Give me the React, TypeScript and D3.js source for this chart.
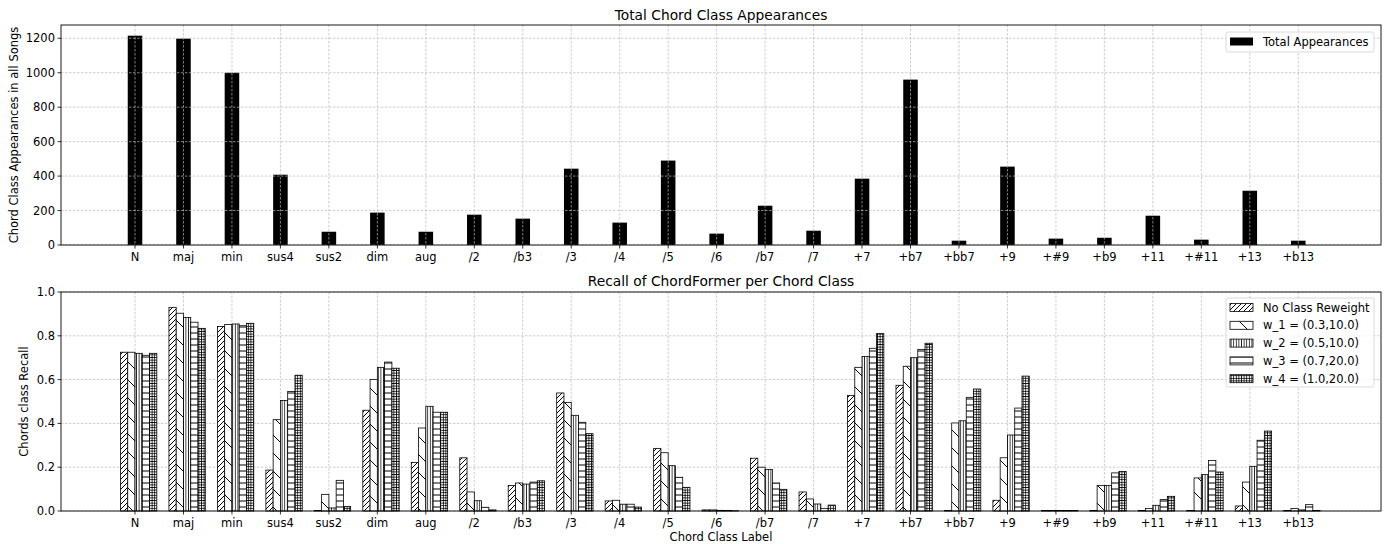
import * as d3 from 'd3'

const labels = ['N', 'maj', 'min', 'sus4', 'sus2', 'dim', 'aug', '/2', '/b3', '/3', '/4', '/5', '/6', '/b7', '/7', '+7', '+b7', '+bb7', '+9', '+#9', '+b9', '+11', '+#11', '+13', '+b13']

const totalAppearances = [1215, 1198, 1000, 408, 77, 188, 77, 176, 153, 443, 130, 490, 66, 228, 83, 385, 960, 25, 455, 37, 42, 170, 31, 315, 25]

const noReweight = [0.725, 0.93, 0.843, 0.187, 0.002, 0.46, 0.222, 0.243, 0.116, 0.539, 0.046, 0.286, 0.005, 0.241, 0.087, 0.528, 0.574, 0.002, 0.049, 0.002, 0.002, 0.002, 0.002, 0.023, 0.002]
const w1 = [0.725, 0.903, 0.852, 0.417, 0.076, 0.601, 0.379, 0.087, 0.128, 0.496, 0.049, 0.266, 0.005, 0.2, 0.055, 0.656, 0.661, 0.402, 0.243, 0.002, 0.117, 0.012, 0.151, 0.132, 0.012]
const w2 = [0.72, 0.884, 0.854, 0.505, 0.014, 0.656, 0.478, 0.047, 0.123, 0.437, 0.031, 0.207, 0.003, 0.19, 0.032, 0.706, 0.7, 0.412, 0.347, 0.002, 0.117, 0.026, 0.166, 0.204, 0.005]
const w3 = [0.711, 0.862, 0.846, 0.546, 0.14, 0.68, 0.451, 0.017, 0.132, 0.405, 0.031, 0.154, 0.002, 0.128, 0.012, 0.743, 0.738, 0.519, 0.47, 0.002, 0.174, 0.052, 0.231, 0.323, 0.029]
const w4 = [0.72, 0.834, 0.857, 0.62, 0.021, 0.652, 0.451, 0.005, 0.138, 0.353, 0.018, 0.108, 0.001, 0.099, 0.027, 0.81, 0.766, 0.557, 0.616, 0.002, 0.181, 0.067, 0.178, 0.365, 0.002]

const seriesNames = ['No Class Reweight', 'w_1 = (0.3,10.0)', 'w_2 = (0.5,10.0)', 'w_3 = (0.7,20.0)', 'w_4 = (1.0,20.0)']
const recallSeries = [noReweight, w1, w2, w3, w4]

const topTicks = [0, 200, 400, 600, 800, 1000, 1200]
const bottomTicks = [0, 0.2, 0.4, 0.6, 0.8, 1.0]

const FONT = 'DejaVu Sans, sans-serif'
const L = 61
const R = 1381
const T1 = 25
const B1 = 245
const T2 = 292
const B2 = 511

// hatch fills, roughly matplotlib's ////, \, ||||, ---, +++
function Patterns() {
  const s0 = 5
  const s1 = 18
  return (
    <defs>
      <pattern id="h0" patternUnits="userSpaceOnUse" width={s0} height={s0}>
        <rect width={s0} height={s0} fill="#fff" />
        <path d={`M0,${s0}L${s0},0M-1,1L1,-1M${s0 - 1},${s0 + 1}L${s0 + 1},${s0 - 1}`} stroke="#000" strokeWidth={1} />
      </pattern>
      <pattern id="h1" patternUnits="userSpaceOnUse" width={s1} height={s1}>
        <rect width={s1} height={s1} fill="#fff" />
        <path d={`M0,0L${s1},${s1}M-1,${s1 - 1}L1,${s1 + 1}M${s1 - 1},-1L${s1 + 1},1`} stroke="#000" strokeWidth={1} />
      </pattern>
      <pattern id="h2" patternUnits="userSpaceOnUse" width={2.6} height={4}>
        <rect width={2.6} height={4} fill="#fff" />
        <path d="M1.3,0L1.3,4" stroke="#000" strokeWidth={0.8} />
      </pattern>
      <pattern id="h3" patternUnits="userSpaceOnUse" width={4} height={6}>
        <rect width={4} height={6} fill="#fff" />
        <path d="M0,3L4,3" stroke="#000" strokeWidth={1} />
      </pattern>
      <pattern id="h4" patternUnits="userSpaceOnUse" width={2.6} height={2.6}>
        <rect width={2.6} height={2.6} fill="#fff" />
        <path d="M1.3,0L1.3,2.6M0,1.3L2.6,1.3" stroke="#000" strokeWidth={0.8} />
      </pattern>
    </defs>
  )
}

export default function App() {
  const x = d3.scaleLinear().domain([-1.527, 25.707]).range([L, R])
  const yTop = d3.scaleLinear().domain([0, 1277]).range([B1, T1])
  const yBot = d3.scaleLinear().domain([0, 1]).range([B2, T2])
  const fmt = d3.format('.1f')
  const unit = x(1) - x(0)

  const grid = (top: number, bottom: number, ys: number[]) => (
    <g stroke="#b8b8b8" strokeWidth={0.7} strokeDasharray="2.5,1.5">
      {labels.map((_, i) => (
        <line key={'gx' + i} x1={x(i)} x2={x(i)} y1={top} y2={bottom} />
      ))}
      {ys.map((v, i) => (
        <line key={'gy' + i} x1={L} x2={R} y1={v} y2={v} />
      ))}
    </g>
  )

  const xTicks = (bottom: number) => (
    <g>
      {labels.map((lab, i) => (
        <g key={lab}>
          <line x1={x(i)} x2={x(i)} y1={bottom} y2={bottom + 3.5} stroke="#000" strokeWidth={0.8} />
          <text x={x(i)} y={bottom + 16} textAnchor="middle" fontSize={11.5} fontFamily={FONT}>
            {lab}
          </text>
        </g>
      ))}
    </g>
  )

  return (
    <svg width={1384} height={544} style={{ position: 'absolute', left: 0, top: 0, background: '#fff' }}>
      <Patterns />
      <rect width={1384} height={544} fill="#fff" />

      {/* top chart */}
      <text x={(L + R) / 2} y={20} textAnchor="middle" fontSize={13.8} fontFamily={FONT}>
        Total Chord Class Appearances
      </text>
      {totalAppearances.map((v, i) => (
        <rect key={'t' + i} x={x(i) - 0.15 * unit} width={0.3 * unit} y={yTop(v)} height={B1 - yTop(v)} fill="#000" />
      ))}
      {grid(T1, B1, topTicks.map((t) => yTop(t)))}
      {topTicks.map((t) => (
        <g key={'yt' + t}>
          <line x1={L - 3.5} x2={L} y1={yTop(t)} y2={yTop(t)} stroke="#000" strokeWidth={0.8} />
          <text x={L - 6} y={yTop(t) + 4} textAnchor="end" fontSize={11.5} fontFamily={FONT}>
            {t}
          </text>
        </g>
      ))}
      {xTicks(B1)}
      <rect x={L} y={T1} width={R - L} height={B1 - T1} fill="none" stroke="#000" strokeWidth={0.9} />
      <text transform={`translate(18,${(T1 + B1) / 2}) rotate(-90)`} textAnchor="middle" fontSize={11.5} fontFamily={FONT}>
        Chord Class Appearances in all Songs
      </text>
      <g>
        <rect x={1226} y={32} width={148} height={20} rx={2} fill="#fff" fillOpacity={0.8} stroke="#d0d0d0" strokeWidth={0.8} />
        <rect x={1230} y={37.5} width={23} height={8} fill="#000" />
        <text x={1263} y={45.5} fontSize={11.5} fontFamily={FONT}>
          Total Appearances
        </text>
      </g>

      {/* bottom chart: grid sits behind the hatched bars */}
      <text x={(L + R) / 2} y={286} textAnchor="middle" fontSize={13.8} fontFamily={FONT}>
        Recall of ChordFormer per Chord Class
      </text>
      {grid(T2, B2, bottomTicks.map((t) => yBot(t)))}
      {recallSeries.map((vals, k) => (
        <g key={'s' + k}>
          {vals.map((v, i) => (
            <rect
              key={i}
              x={x(i + (k - 2) * 0.15)}
              width={0.15 * unit}
              y={yBot(v)}
              height={B2 - yBot(v)}
              fill={`url(#h${k})`}
              stroke="#000"
              strokeWidth={0.8}
            />
          ))}
        </g>
      ))}
      {bottomTicks.map((t) => (
        <g key={'yb' + t}>
          <line x1={L - 3.5} x2={L} y1={yBot(t)} y2={yBot(t)} stroke="#000" strokeWidth={0.8} />
          <text x={L - 6} y={yBot(t) + 4} textAnchor="end" fontSize={11.5} fontFamily={FONT}>
            {fmt(t)}
          </text>
        </g>
      ))}
      {xTicks(B2)}
      <rect x={L} y={T2} width={R - L} height={B2 - T2} fill="none" stroke="#000" strokeWidth={0.9} />
      <text transform={`translate(28,${(T2 + B2) / 2}) rotate(-90)`} textAnchor="middle" fontSize={11.5} fontFamily={FONT}>
        Chords class Recall
      </text>
      <text x={(L + R) / 2} y={541} textAnchor="middle" fontSize={11.5} fontFamily={FONT}>
        Chord Class Label
      </text>
      <g>
        <rect x={1226} y={298} width={148} height={89} rx={2} fill="#fff" fillOpacity={0.8} stroke="#d0d0d0" strokeWidth={0.8} />
        {seriesNames.map((name, k) => (
          <g key={name}>
            <rect x={1230} y={303.5 + k * 17.8} width={23} height={8} fill={`url(#h${k})`} stroke="#000" strokeWidth={0.8} />
            <text x={1263} y={311.5 + k * 17.8} fontSize={11.5} fontFamily={FONT}>
              {name}
            </text>
          </g>
        ))}
      </g>
    </svg>
  )
}
